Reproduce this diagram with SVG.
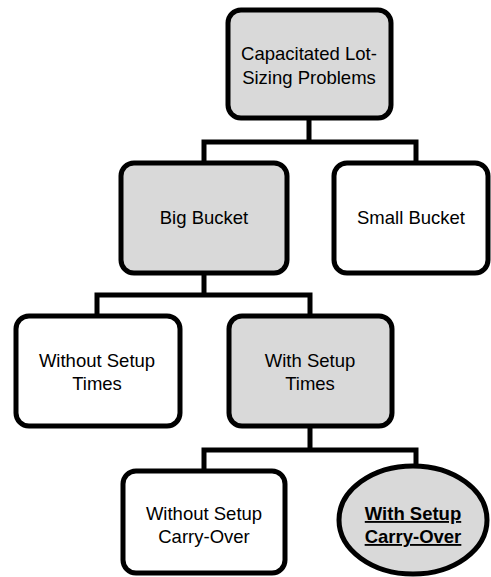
<svg xmlns="http://www.w3.org/2000/svg" width="491" height="577" viewBox="0 0 491 577">
<style>
.box{stroke:#000;stroke-width:5;}
.g{fill:#d9d9d9;}
.w{fill:#fff;}
.c{fill:none;stroke:#000;stroke-width:5;}
text{font-family:"Liberation Sans",Arial,sans-serif;font-size:18.5px;text-anchor:middle;fill:#000;}
.b{font-weight:bold;text-decoration:underline;}
</style>
<rect width="491" height="577" fill="#fff"/>
<g id="connectors">
<path class="c" d="M309 120V142M204 162V142H416V162"/>
<path class="c" d="M204 273V295M97 315V295H310V315"/>
<path class="c" d="M310 427V450M204 470V450H416V466"/>
</g>
<g id="n1"><rect class="box g" x="228" y="10" width="163" height="108" rx="13"/>
<text x="309" y="60">Capacitated Lot-</text><text x="309" y="84">Sizing Problems</text></g>
<g id="n2"><rect class="box g" x="121" y="163" width="166" height="110" rx="13"/>
<text x="204" y="224">Big Bucket</text></g>
<g id="n3"><rect class="box w" x="334" y="163" width="154" height="110" rx="13"/>
<text x="411" y="224">Small Bucket</text></g>
<g id="n4"><rect class="box w" x="16" y="316" width="164" height="110" rx="13"/>
<text x="97" y="367">Without Setup</text><text x="97" y="390">Times</text></g>
<g id="n5"><rect class="box g" x="229" y="316" width="163" height="110" rx="13"/>
<text x="310" y="367">With Setup</text><text x="310" y="390">Times</text></g>
<g id="n6"><rect class="box w" x="123" y="471" width="162" height="102" rx="13"/>
<text x="204" y="520">Without Setup</text><text x="204" y="543">Carry-Over</text></g>
<g id="n7"><ellipse class="box g" cx="413" cy="520" rx="74" ry="54"/>
<text class="b" x="413" y="520">With Setup</text><text class="b" x="413" y="543">Carry-Over</text></g>
</svg>
